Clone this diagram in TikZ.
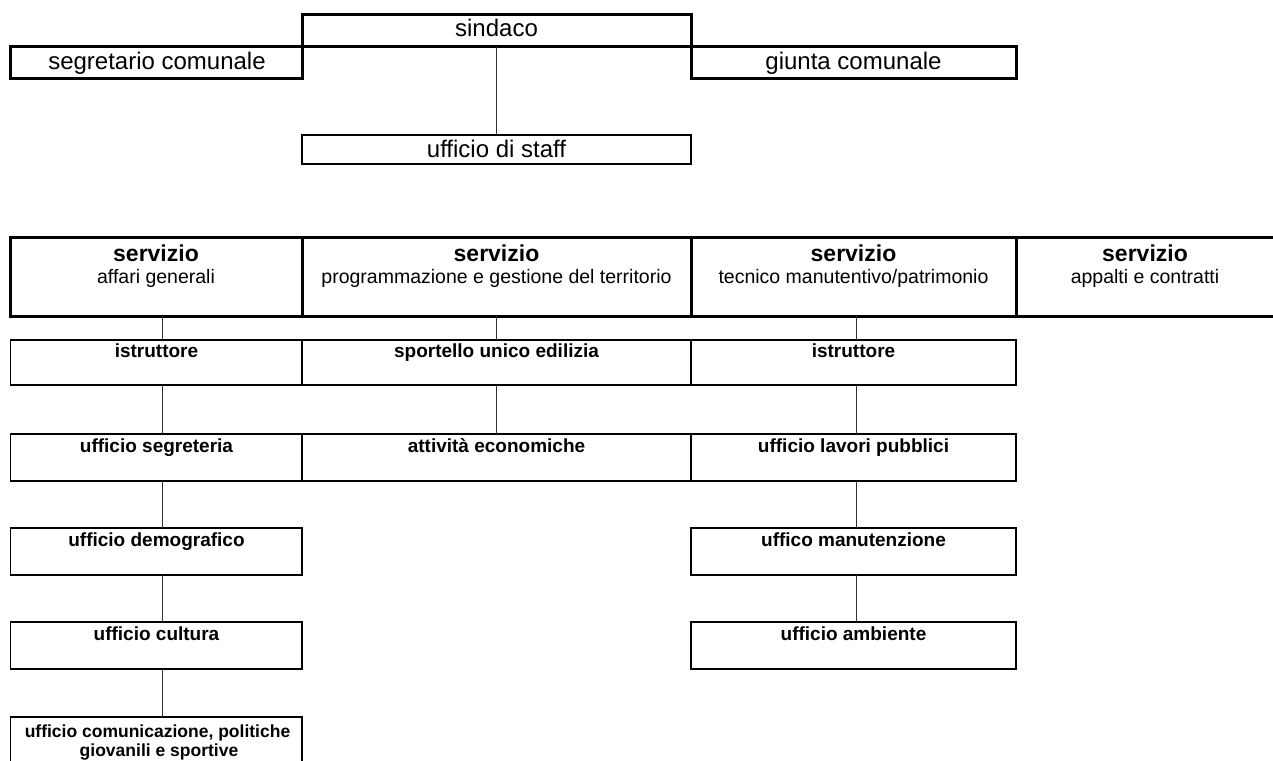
\documentclass[tikz,border=0pt]{standalone}
\usepackage{fontspec}
\setmainfont{Liberation Sans}
\usetikzlibrary{calc}

% a box given by its corners: name, style, x1, y1, x2, y2
\newcommand\orgbox[6]{%
  \node[#2, minimum width={#5-#3}, minimum height={#6-#4}] (#1)
    at ({(#3+#5)/2},{(#4+#6)/2}) {};}

\begin{document}
\begin{tikzpicture}[x=1pt,y=-1pt,
  heavybox/.style={draw=black, line width=3pt, inner sep=0pt, outer sep=0pt, rectangle},
  lightbox/.style={draw=black, line width=1.3pt, inner sep=0pt, outer sep=0pt, rectangle},
  link/.style={draw=black!80, line width=1.3pt},
  headlbl/.style={anchor=base, inner sep=0pt, font=\fontsize{24}{27}\selectfont},
  servlbl/.style={anchor=base, inner sep=0pt, font=\bfseries\fontsize{23}{26}\selectfont},
  sublbl/.style={anchor=base, inner sep=0pt, font=\fontsize{19.5}{22}\selectfont},
  unitlbl/.style={anchor=base, inner sep=0pt, font=\bfseries\fontsize{19}{22}\selectfont},
  longlbl/.style={anchor=base, inner sep=0pt, font=\bfseries\fontsize{17.5}{20}\selectfont},
]
\useasboundingbox (0,0) rectangle (1273,760);

% ---- top level ----
\orgbox{sindaco}{heavybox}{302}{15}{691}{47}
\orgbox{segretario}{heavybox}{10}{47}{302}{78}
\orgbox{giunta}{heavybox}{691}{47}{1016}{78}
\orgbox{staff}{lightbox}{302}{135}{691}{164}

\node[headlbl] (sindaco-t) at (496.5,37) {sindaco};
\node[headlbl] (segretario-t) at (157,69) {segretario comunale};
\node[headlbl] (giunta-t) at (853.5,69) {giunta comunale};
\node[headlbl] (staff-t) at (496.5,157) {ufficio di staff};

\draw[link] (sindaco.south) -- (staff.north);

% ---- servizi ----
\orgbox{srvA}{heavybox}{10.5}{237}{302}{316}
\orgbox{srvB}{heavybox}{302}{237}{691}{316}
\orgbox{srvC}{heavybox}{691}{237}{1016}{316}
\orgbox{srvD}{heavybox}{1016}{237}{1276}{316}

\node[servlbl] (srvA-t) at (156,261) {servizio};
\node[sublbl] (srvA-s) at (156,283) {affari generali};
\node[servlbl] (srvB-t) at (496.5,261) {servizio};
\node[sublbl] (srvB-s) at (496.5,283) {programmazione e gestione del territorio};
\node[servlbl] (srvC-t) at (853.5,261) {servizio};
\node[sublbl] (srvC-s) at (853.5,283) {tecnico manutentivo/patrimonio};
\node[servlbl] (srvD-t) at (1145,261) {servizio};
\node[sublbl] (srvD-s) at (1145,283) {appalti e contratti};

% ---- affari generali ----
\orgbox{a1}{lightbox}{10.5}{340}{302}{385}
\orgbox{a2}{lightbox}{10.5}{434}{302}{481}
\orgbox{a3}{lightbox}{10.5}{528}{302}{575}
\orgbox{a4}{lightbox}{10.5}{622}{302}{669}
\orgbox{a5}{lightbox}{10.5}{717}{302}{800}

\node[unitlbl] (a1-t) at (156.5,357) {istruttore};
\node[unitlbl] (a2-t) at (156.5,452) {ufficio segreteria};
\node[unitlbl] (a3-t) at (156.5,546) {ufficio demografico};
\node[unitlbl] (a4-t) at (156.5,640) {ufficio cultura};
\node[longlbl] (a5-t) at (157.5,737) {ufficio comunicazione, politiche};
\node[longlbl] (a5-u) at (159,756) {giovanili e sportive};

\draw[link] ([xshift=6pt]srvA.south) -- ([xshift=6pt]a1.north);
\draw[link] ([xshift=6pt]a1.south) -- ([xshift=6pt]a2.north);
\draw[link] ([xshift=6pt]a2.south) -- ([xshift=6pt]a3.north);
\draw[link] ([xshift=6pt]a3.south) -- ([xshift=6pt]a4.north);
\draw[link] ([xshift=6pt]a4.south) -- ([xshift=6pt]a5.north);

% ---- programmazione e gestione del territorio ----
\orgbox{b1}{lightbox}{302}{340}{691}{385}
\orgbox{b2}{lightbox}{302}{434}{691}{481}

\node[unitlbl] (b1-t) at (496.5,357) {sportello unico edilizia};
\node[unitlbl] (b2-t) at (496.5,452) {attività economiche};

\draw[link] (srvB.south) -- (b1.north);
\draw[link] (b1.south) -- (b2.north);

% ---- tecnico manutentivo/patrimonio ----
\orgbox{c1}{lightbox}{691}{340}{1016}{385}
\orgbox{c2}{lightbox}{691}{434}{1016}{481}
\orgbox{c3}{lightbox}{691}{528}{1016}{575}
\orgbox{c4}{lightbox}{691}{622}{1016}{669}

\node[unitlbl] (c1-t) at (853.5,357) {istruttore};
\node[unitlbl] (c2-t) at (853.5,452) {ufficio lavori pubblici};
\node[unitlbl] (c3-t) at (853.5,546) {uffico manutenzione};
\node[unitlbl] (c4-t) at (853.5,640) {ufficio ambiente};

\draw[link] ([xshift=3pt]srvC.south) -- ([xshift=3pt]c1.north);
\draw[link] ([xshift=3pt]c1.south) -- ([xshift=3pt]c2.north);
\draw[link] ([xshift=3pt]c2.south) -- ([xshift=3pt]c3.north);
\draw[link] ([xshift=3pt]c3.south) -- ([xshift=3pt]c4.north);
\end{tikzpicture}
\end{document}
